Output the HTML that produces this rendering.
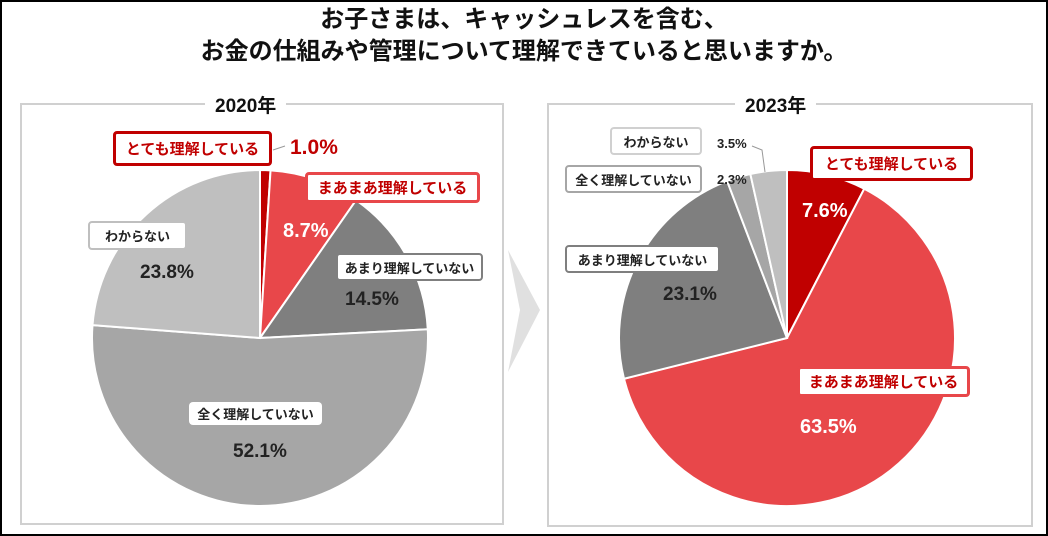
<!DOCTYPE html>
<html><head><meta charset="utf-8">
<style>
body{margin:0;width:1048px;height:536px;background:#fff;overflow:hidden;font-family:"Liberation Sans","Noto Sans CJK JP",sans-serif;}
#frame{position:absolute;left:0;top:0;width:1044px;height:532px;border:2px solid #000;}
.title{position:absolute;left:0;width:1048px;text-align:center;font-weight:bold;font-size:24px;line-height:28px;color:#111;}
.panel{position:absolute;border:2px solid #d0d0d0;}
.ptitle{position:absolute;background:#fff;font-weight:bold;font-size:19px;padding:0 10px;color:#111;}
.lbl{position:absolute;background:#fff;font-weight:bold;font-size:13px;display:flex;align-items:center;justify-content:center;border-radius:4px;box-sizing:border-box;color:#222;}
.pct{position:absolute;font-weight:bold;font-size:19px;color:#222;white-space:nowrap;}
svg{position:absolute;left:0;top:0;}
</style></head><body>
<div id="frame"></div>
<div class="title" style="top:6px">お子さまは、キャッシュレスを含む、</div>
<div class="title" style="top:38px">お金の仕組みや管理について理解できていると思いますか。</div>
<div class="panel" style="left:20px;top:103px;width:480px;height:418px"></div>
<div class="panel" style="left:547px;top:103px;width:482px;height:420px"></div>
<div class="ptitle" style="left:205px;top:91px">2020年</div>
<div class="ptitle" style="left:735px;top:91px">2023年</div>
<svg width="1048" height="536" id="chart">
<polygon points="508,250 540,310 508,372 520,310" fill="#e0e0e0"/>
<g id="pies"></g>
<polyline points="752,146 762,150 765,172" fill="none" stroke="#999" stroke-width="1"/>
<polyline points="273,150 285,146" fill="none" stroke="#999" stroke-width="1"/>
</svg>

<div class="lbl" style="left:113px;top:131px;width:159px;height:35px;border:3px solid #c00000;color:#c00000;font-size:15px">とても理解している</div>
<div class="pct" style="left:290px;top:136px;color:#c00000;font-size:21px">1.0%</div>
<div class="lbl" style="left:305px;top:172px;width:175px;height:31px;border:3px solid #e8474a;color:#c00000;font-size:15px">まあまあ理解している</div>
<div class="pct" style="left:283px;top:220px;color:#fff;font-size:20px">8.7%</div>
<div class="lbl" style="left:336px;top:253px;width:147px;height:28px;border:2px solid #7f7f7f">あまり理解していない</div>
<div class="pct" style="left:345px;top:289px">14.5%</div>
<div class="lbl" style="left:88px;top:221px;width:99px;height:29px;border:2px solid #bfbfbf">わからない</div>
<div class="pct" style="left:140px;top:262px">23.8%</div>
<div class="lbl" style="left:189px;top:402px;width:133px;height:23px">全く理解していない</div>
<div class="pct" style="left:233px;top:441px">52.1%</div>

<div class="lbl" style="left:610px;top:127px;width:92px;height:28px;border:2px solid #d0d0d0">わからない</div>
<div class="pct" style="left:717px;top:136px;font-size:13px">3.5%</div>
<div class="lbl" style="left:565px;top:165px;width:137px;height:28px;border:2px solid #a6a6a6">全く理解していない</div>
<div class="pct" style="left:717px;top:172px;font-size:13px">2.3%</div>
<div class="lbl" style="left:810px;top:146px;width:163px;height:35px;border:3px solid #c00000;color:#c00000;font-size:15px">とても理解している</div>
<div class="pct" style="left:802px;top:200px;color:#fff;font-size:20px">7.6%</div>
<div class="lbl" style="left:565px;top:245px;width:155px;height:28px;border:2px solid #7f7f7f">あまり理解していない</div>
<div class="pct" style="left:663px;top:284px">23.1%</div>
<div class="lbl" style="left:797px;top:366px;width:173px;height:31px;border:3px solid #e8474a;color:#c00000;font-size:15px">まあまあ理解している</div>
<div class="pct" style="left:800px;top:416px;color:#fff;font-size:20px">63.5%</div>

<script>
const categories = ["とても理解している","まあまあ理解している","あまり理解していない","全く理解していない","わからない"];
const values2020 = [1.0, 8.7, 14.5, 52.1, 23.8];
const values2023 = [7.6, 63.5, 23.1, 2.3, 3.5];
const colors2020 = ["#c00000","#e8474a","#7f7f7f","#a6a6a6","#bfbfbf"];
const colors2023 = ["#c00000","#e8474a","#7f7f7f","#a6a6a6","#bfbfbf"];
const NS="http://www.w3.org/2000/svg";
function drawPie(vals, cols, cx, cy, r, year){
  const g=document.getElementById('pies');
  const total=vals.reduce((a,b)=>a+b,0);
  let a0=0;
  vals.forEach((v,i)=>{
    const a1=a0+v/total*Math.PI*2;
    const x0=cx+r*Math.sin(a0), y0=cy-r*Math.cos(a0);
    const x1=cx+r*Math.sin(a1), y1=cy-r*Math.cos(a1);
    const large=(a1-a0)>Math.PI?1:0;
    const p=document.createElementNS(NS,'path');
    p.setAttribute('d',`M${cx},${cy} L${x0},${y0} A${r},${r} 0 ${large} 1 ${x1},${y1} Z`);
    p.setAttribute('fill',cols[i]);
    p.setAttribute('stroke','#fff');
    p.setAttribute('stroke-width','2');
    
    
    g.appendChild(p);
    a0=a1;
  });
}
drawPie(values2020, colors2020, 260, 338, 168, '2020');
drawPie(values2023, colors2023, 787, 338, 168, '2023');
</script>
</body></html>
